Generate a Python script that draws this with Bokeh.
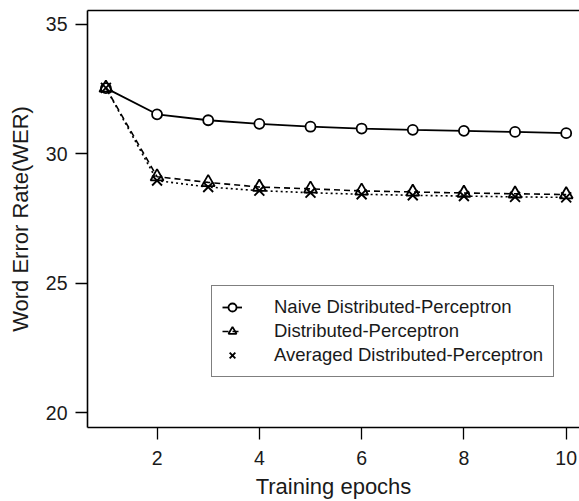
from bokeh.plotting import figure
from bokeh.models import Range1d, FixedTicker, LinearAxis, Legend, LegendItem
from bokeh.embed import file_html
from bokeh.resources import INLINE

# ---- data ----
epochs = [1, 2, 3, 4, 5, 6, 7, 8, 9, 10]
naive = [32.54, 31.53, 31.30, 31.16, 31.05, 30.98, 30.93, 30.89, 30.85, 30.80]
distributed = [32.55, 29.12, 28.90, 28.72, 28.65, 28.57, 28.53, 28.49, 28.46, 28.43]
averaged = [32.55, 28.97, 28.72, 28.58, 28.50, 28.44, 28.40, 28.37, 28.34, 28.32]
series_names = ["Naive Distributed-Perceptron", "Distributed-Perceptron",
                "Averaged Distributed-Perceptron"]
x_ticks = [2, 4, 6, 8, 10]
y_ticks = [20, 25, 30, 35]
x_title = "Training epochs"
y_title = "Word Error Rate(WER)"

FONT = "Liberation Sans"
TXT = "#1a1a1a"

p = figure(width=579, height=501, output_backend="svg", toolbar_location=None,
           x_range=Range1d(0.64, 10.26), y_range=Range1d(19.43, 35.54),
           min_border_left=87, min_border_right=0, min_border_top=10,
           min_border_bottom=74, background_fill_color="white",
           border_fill_color="white")
p.outline_line_color = None
p.grid.visible = False

for ax, ticks in ((p.xaxis[0], x_ticks), (p.yaxis[0], y_ticks)):
    ax.ticker = FixedTicker(ticks=ticks)
    ax.minor_tick_line_color = None
    ax.major_tick_in = 0
    ax.major_tick_out = 12
    ax.major_tick_line_width = 1.3
    ax.major_tick_line_color = "black"
    ax.axis_line_width = 1.6
    ax.axis_line_color = "black"
    ax.major_label_text_font = FONT
    ax.major_label_text_font_size = "19.5px"
    ax.major_label_text_color = TXT
    ax.axis_label_text_font = FONT
    ax.axis_label_text_font_size = "22px"
    ax.axis_label_text_font_style = "normal"
    ax.axis_label_text_color = TXT

p.xaxis[0].axis_label = x_title
p.xaxis[0].major_label_standoff = 11
p.xaxis[0].axis_label_standoff = 6
p.yaxis[0].axis_label = y_title
p.yaxis[0].major_label_standoff = 8
p.yaxis[0].axis_label_standoff = 10

top = LinearAxis(ticker=FixedTicker(ticks=[]), major_tick_out=0, major_tick_in=0,
                 minor_tick_out=0, minor_tick_in=0, axis_line_width=1.6,
                 axis_line_color="black", major_label_text_font_size="0px")
p.add_layout(top, "above")

# ---- series ----
l1 = p.line(epochs, naive, line_color="black", line_width=1.8)
s1 = p.scatter(epochs, naive, marker="circle", size=10, fill_color="white",
               line_color="black", line_width=1.8)

l2 = p.line(epochs, distributed, line_color="black", line_width=1.6, line_dash="6 4")
s2 = p.scatter(epochs, distributed, marker="triangle", size=13, fill_color=None,
               line_color="black", line_width=1.8)

l3 = p.line(epochs, averaged, line_color="black", line_width=1.6, line_dash="2 3")
s3 = p.scatter(epochs, averaged, marker="x", size=14, line_color="black",
               line_width=1.9)

legend = Legend(items=[
    LegendItem(label=series_names[0], renderers=[l1, s1]),
    LegendItem(label=series_names[1], renderers=[l2, s2]),
    LegendItem(label=series_names[2], renderers=[s3]),
], location=(124, 50))
legend.label_text_font = FONT
legend.label_text_font_size = "18.5px"
legend.label_text_color = TXT
legend.border_line_color = "black"
legend.border_line_width = 1.5
legend.padding = 10
legend.spacing = 2
legend.label_standoff = 32
legend.glyph_width = 20
legend.margin = 0
legend.background_fill_color = "white"
legend.background_fill_alpha = 1
p.add_layout(legend)

open("out.html", "w").write(file_html(p, INLINE))
